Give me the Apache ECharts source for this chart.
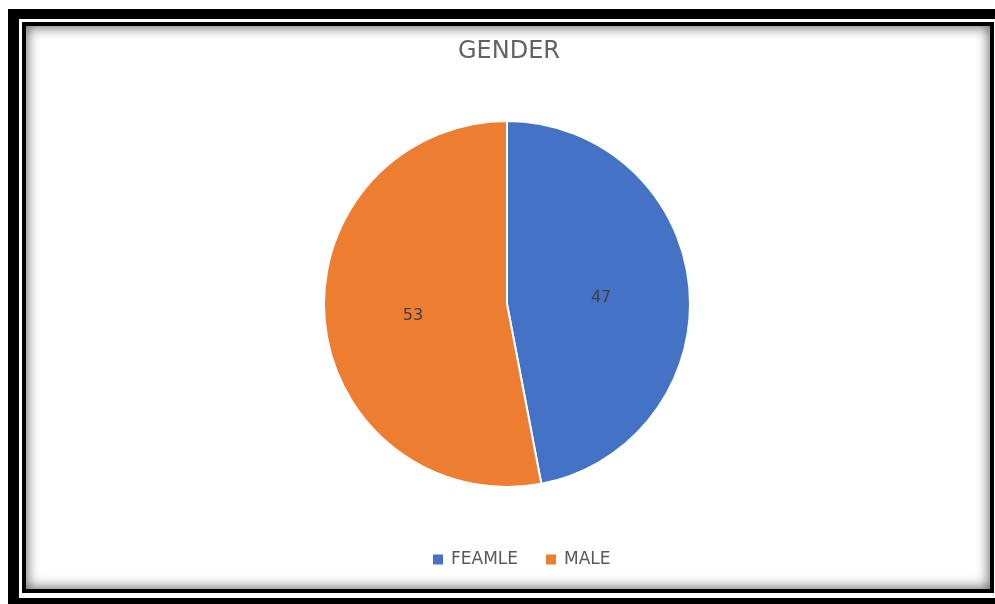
<!DOCTYPE html>
<html>
<head>
<meta charset="utf-8">
<script src="https://cdn.jsdelivr.net/npm/echarts@6/dist/echarts.min.js"></script>
<style>
  html, body { margin: 0; padding: 0; background: #ffffff; overflow: hidden; }
  #chart { position: absolute; left: 0; top: 0; width: 995px; height: 604px; }
  /* heavy outer frame */
  .frame-outer {
    position: absolute; left: 8px; top: 9px; width: 1000px; height: 600px;
    border: 11px solid #000; border-top-width: 10px; box-sizing: border-box;
    pointer-events: none;
  }
  /* thin inner frame with soft inner shadow */
  .frame-inner {
    position: absolute; left: 22px; top: 22px; width: 972px; height: 571px;
    border: 4px solid #000; box-sizing: border-box;
    box-shadow: inset 0 0 12px 2px rgba(0,0,0,0.55);
    pointer-events: none;
  }
</style>
</head>
<body>
<div id="chart"></div>
<div class="frame-outer"></div>
<div class="frame-inner"></div>
<script>
// Gender split
const categories = ['FEAMLE', 'MALE'];
const values = [47, 53];
const colors = ['#4472C4', '#ED7D31'];

const chart = echarts.init(document.getElementById('chart'), null, { renderer: 'canvas' });

const font = 'DejaVu Sans';

chart.setOption({
  animation: false,
  backgroundColor: '#ffffff',
  title: {
    text: 'GENDER',
    left: 453,
    top: 35,
    textStyle: {
      fontFamily: font,
      fontSize: 24,
      fontWeight: 'normal',
      color: '#636363'
    }
  },
  legend: {
    data: categories,
    left: 426,
    top: 546,
    icon: 'rect',
    itemWidth: 12,
    itemHeight: 12,
    itemGap: 26,
    textStyle: {
      fontFamily: font,
      fontSize: 17,
      color: '#595959',
      padding: [0, 0, 0, 2]
    }
  },
  series: [{
    type: 'pie',
    center: [507, 304],
    radius: 183,
    startAngle: 90,
    clockwise: true,
    data: categories.map((name, i) => ({
      name: name,
      value: values[i],
      itemStyle: { color: colors[i] }
    })),
    itemStyle: { borderColor: '#ffffff', borderWidth: 2 },
    label: {
      show: true,
      position: 'inside',
      formatter: '{c}',
      fontFamily: font,
      fontSize: 16,
      color: '#404040',
      offset: [0, 3]
    },
    labelLine: { show: false },
    emphasis: { disabled: true }
  }]
});
</script>
</body>
</html>
